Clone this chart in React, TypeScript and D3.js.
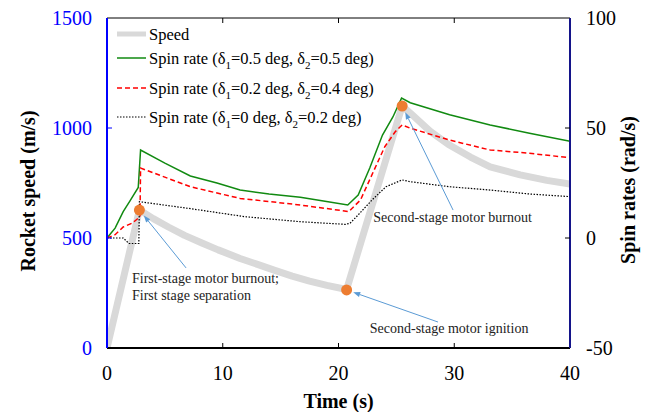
import React from "react";
import * as d3 from "d3";

// ---- data ----
const timeTicks = [0, 10, 20, 30, 40];
const speedTicks = [0, 500, 1000, 1500];
const spinTicks = [-50, 0, 50, 100];

const speedTime = [0, 2.8, 4, 5.3, 6.7, 8.2, 9.6, 11.5, 13, 14.5, 16, 17.5, 19, 20.7, 25.5, 26.2, 27.9, 29.5, 31.4, 33.1, 35.7, 38, 40];
const speedValue = [0, 627, 588, 550, 512, 477, 446, 407, 380, 353, 327, 304, 285, 266, 1100, 1068, 986, 925, 868, 823, 787, 762, 745];

const greenTime = [0, 0.7, 1.4, 2.0, 2.7, 2.9, 5, 7.2, 9.5, 11.5, 14, 16.7, 18.7, 20.8, 21.7, 22.7, 23.8, 24.7, 25.45, 26.2, 29.6, 33.1, 36.5, 40];
const greenSpin = [0, 4.5, 12, 17, 23, 40, 34, 28.2, 25, 21.8, 20, 18.5, 16.8, 15, 19.5, 31.8, 46.8, 55, 63.6, 61.5, 56, 51.4, 47.6, 44];

const redTime = [0, 0.7, 1.4, 2.2, 2.7, 2.85, 2.9, 7.2, 11.5, 16.7, 20.9, 21.9, 23, 24, 24.9, 25.5, 26.2, 29.6, 33.1, 36.5, 40];
const redSpin = [0, 1.5, 5, 6.8, 9, 10, 31.8, 23.3, 18, 15, 12, 17.3, 30, 41.5, 48.3, 51.4, 49.9, 44.5, 40, 38.5, 36.5];

const blackTime = [0, 1.4, 1.9, 2.75, 2.8, 7.0, 11.9, 16.7, 20.6, 21.0, 21.7, 22.9, 24.1, 25.5, 26.2, 29.6, 33.1, 36.5, 40];
const blackSpin = [0, 0, -2.5, -2.5, 16.5, 13.5, 9.7, 7.4, 6.2, 6.7, 10.5, 17.3, 23.3, 26.4, 25.6, 23.3, 21.8, 20, 18.8];

// key events on the speed curve
const eventTime = [2.8, 20.7, 25.5];
const eventSpeed = [627, 264, 1100];
// arrow tails (data space) per event
const arrowTailTime = [6.83, 28.6, 29.9];
const arrowTailSpeed = [364, 118, 627];
// annotation texts
const noteLines = [
  ["First-stage motor burnout;", "First stage separation"],
  ["Second-stage motor ignition"],
  ["Second-stage motor burnout"],
];
const noteTime = [2.16, 22.7, 23.0];
const noteSpeed = [295, 70, 574];

const legendLabels = ["Speed", "0.5|0.5", "0.2|0.4", "0|0.2"];

const SERIF = '"Liberation Serif", "Times New Roman", Times, serif';

export default function App() {
  const W = 646;
  const H = 412;
  const L = 107, R = 570, T = 18, B = 348;
  const x = d3.scaleLinear().domain([0, 40]).range([L, R]);
  const yL = d3.scaleLinear().domain([0, 1500]).range([B, T]);
  const yR = d3.scaleLinear().domain([-50, 100]).range([B, T]);

  const lineL = d3.line<number>().x((_, i) => x(speedTime[i])).y((d) => yL(d));
  const mk = (ts: number[]) =>
    d3.line<number>().x((_, i) => x(ts[i])).y((d) => yR(d));

  const speedPath = lineL(speedValue) || "";
  const greenPath = mk(greenTime)(greenSpin) || "";
  const redPath = mk(redTime)(redSpin) || "";
  const blackPath = mk(blackTime)(blackSpin) || "";

  const arrowColor = "#5b9bd5";
  const dotR = 5.5;

  const arrows = eventTime.map((t, i) => {
    const cx = x(t), cy = yL(eventSpeed[i]);
    const tx = x(arrowTailTime[i]), ty = yL(arrowTailSpeed[i]);
    const dx = tx - cx, dy = ty - cy;
    const n = Math.hypot(dx, dy);
    const ux = dx / n, uy = dy / n;
    const tipX = cx + ux * (dotR + 1.5), tipY = cy + uy * (dotR + 1.5);
    const hl = 7, hw = 2.6;
    const bx = tipX + ux * hl, by = tipY + uy * hl;
    const head = `M${tipX},${tipY} L${bx - uy * hw},${by + ux * hw} L${bx + uy * hw},${by - ux * hw} Z`;
    return { tx, ty, bx, by, head };
  });

  const legendY = [34, 58, 88, 117];
  const legendStyles = [
    { stroke: "#d9d9d9", width: 5, dash: "" },
    { stroke: "#118a11", width: 1.5, dash: "" },
    { stroke: "#ff0000", width: 1.5, dash: "5,3" },
    { stroke: "#000000", width: 1.2, dash: "1.5,1.5" },
  ];

  return (
    <svg
      width={W}
      height={H}
      viewBox={`0 0 ${W} ${H}`}
      style={{ position: "absolute", left: 0, top: 0, background: "#fff" }}
      fontFamily={SERIF}
    >
      <defs>
        <clipPath id="plot">
          <rect x={L} y={T} width={R - L} height={B - T} />
        </clipPath>
      </defs>
      <rect x={0} y={0} width={W} height={H} fill="#fff" />

      <g clipPath="url(#plot)">
        <path d={speedPath} fill="none" stroke="#d9d9d9" strokeWidth={7} strokeLinejoin="round" />
        <path d={greenPath} fill="none" stroke="#118a11" strokeWidth={1.5} />
        <path d={redPath} fill="none" stroke="#ff0000" strokeWidth={1.5} strokeDasharray="5,3" />
        <path d={blackPath} fill="none" stroke="#000" strokeWidth={1.2} strokeDasharray="1.5,1.5" />
      </g>

      {/* axes */}
      <line x1={L} x2={R} y1={T} y2={T} stroke="#000" strokeWidth={1} />
      <line x1={L} x2={R} y1={B} y2={B} stroke="#000" strokeWidth={1.8} />
      <line x1={L} x2={L} y1={T} y2={B} stroke="#0000ff" strokeWidth={2} />
      <line x1={R} x2={R} y1={T} y2={B} stroke="#14148a" strokeWidth={2} />

      {timeTicks.map((t) => (
        <g key={"xt" + t}>
          {t > 0 && t < 40 && (
            <>
              <line x1={x(t)} x2={x(t)} y1={B} y2={B - 5} stroke="#000" strokeWidth={1} />
              <line x1={x(t)} x2={x(t)} y1={T} y2={T + 5} stroke="#000" strokeWidth={1} />
            </>
          )}
          <text x={x(t)} y={380} textAnchor="middle" fontSize={20} fill="#000">
            {t}
          </text>
        </g>
      ))}
      {speedTicks.map((v) => (
        <g key={"yl" + v}>
          {v > 0 && v < 1500 && (
            <line x1={L} x2={L + 5} y1={yL(v)} y2={yL(v)} stroke="#0000ff" strokeWidth={1} />
          )}
          <text x={92} y={yL(v) + 7} textAnchor="end" fontSize={20} fill="#0000ff">
            {v}
          </text>
        </g>
      ))}
      {spinTicks.map((v) => (
        <g key={"yr" + v}>
          {v > -50 && v < 100 && (
            <line x1={R} x2={R - 5} y1={yR(v)} y2={yR(v)} stroke="#000" strokeWidth={1} />
          )}
          <text x={586} y={yR(v) + 7} textAnchor="start" fontSize={20} fill="#000">
            {v}
          </text>
        </g>
      ))}

      {/* axis titles */}
      <text
        transform={`translate(35,${191}) rotate(-90)`}
        textAnchor="middle"
        fontSize={20}
        fontWeight="bold"
        fill="#000"
      >
        Rocket speed (m/s)
      </text>
      <text
        transform={`translate(635,${190}) rotate(-90)`}
        textAnchor="middle"
        fontSize={20}
        fontWeight="bold"
        fill="#000"
      >
        Spin rates (rad/s)
      </text>
      <text x={(L + R) / 2} y={408} textAnchor="middle" fontSize={20} fontWeight="bold" fill="#000">
        Time (s)
      </text>

      {/* arrows */}
      {arrows.map((a, i) => (
        <g key={"ar" + i}>
          <line x1={a.tx} y1={a.ty} x2={a.bx} y2={a.by} stroke={arrowColor} strokeWidth={1} />
          <path d={a.head} fill={arrowColor} />
        </g>
      ))}

      {/* event dots */}
      {eventTime.map((t, i) => (
        <circle key={"dot" + i} cx={x(t)} cy={yL(eventSpeed[i])} r={dotR} fill="#ed7d31" />
      ))}

      {/* notes */}
      {noteLines.map((lines, i) => (
        <text key={"note" + i} x={x(noteTime[i])} y={yL(noteSpeed[i])} fontSize={14} fill="#222">
          {lines.map((ln, j) => (
            <tspan key={j} x={x(noteTime[i])} dy={j === 0 ? 0 : 17}>
              {ln}
            </tspan>
          ))}
        </text>
      ))}

      {/* legend */}
      {legendLabels.map((lab, i) => {
        const st = legendStyles[i];
        const y = legendY[i];
        return (
          <g key={"lg" + i}>
            <line
              x1={117}
              x2={146}
              y1={y}
              y2={y}
              stroke={st.stroke}
              strokeWidth={st.width}
              strokeDasharray={st.dash || undefined}
            />
            {i === 0 ? (
              <text x={149} y={y + 5.5} fontSize={16.5} fill="#000">
                {lab}
              </text>
            ) : (
              <text x={149} y={y + 5.5} fontSize={16.5} fill="#000">
                {"Spin rate (\u03b4"}
                <tspan dy={5} fontSize={11}>1</tspan>
                <tspan dy={-5}>{"=" + lab.split("|")[0] + " deg, \u03b4"}</tspan>
                <tspan dy={5} fontSize={11}>2</tspan>
                <tspan dy={-5}>{"=" + lab.split("|")[1] + " deg)"}</tspan>
              </text>
            )}
          </g>
        );
      })}
    </svg>
  );
}
